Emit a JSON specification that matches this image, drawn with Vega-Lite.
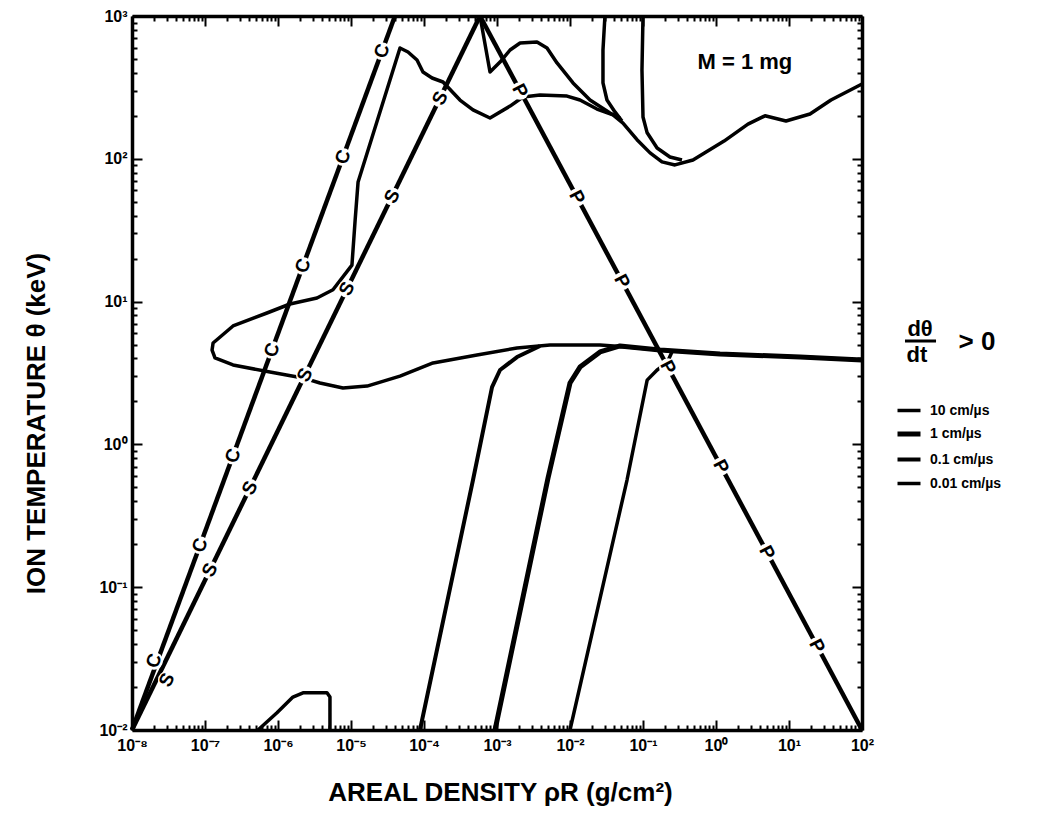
{
  "$schema": "https://vega.github.io/schema/vega-lite/v6.json",
  "width": 730,
  "height": 714,
  "autosize": {"type": "none"},
  "padding": {"left": 132, "top": 16, "right": 176, "bottom": 103},
  "background": "white",
  "config": {"view": {"stroke": null}, "font": "Liberation Sans"},
  "datasets": {
    "lines": [
      {"id": "C", "x": 1e-8, "y": 0.01, "o": 0},
      {"id": "C", "x": 4.0e-5, "y": 1000, "o": 1},
      {"id": "S", "x": 1e-8, "y": 0.01, "o": 0},
      {"id": "S", "x": 5.85e-4, "y": 1000, "o": 1},
      {"id": "P", "x": 5.85e-4, "y": 1000, "o": 0},
      {"id": "P", "x": 100, "y": 0.01, "o": 1}
    ],
    "contours": [
      {"id": "loop", "v": "10 cm/µs", "x": 100, "y": 3.90, "o": 0},
      {"id": "loop", "v": "10 cm/µs", "x": 14.2, "y": 4.09, "o": 1},
      {"id": "loop", "v": "10 cm/µs", "x": 1.135, "y": 4.30, "o": 2},
      {"id": "loop", "v": "10 cm/µs", "x": 0.171, "y": 4.58, "o": 3},
      {"id": "loop", "v": "10 cm/µs", "x": 0.0604, "y": 4.81, "o": 4},
      {"id": "loop", "v": "10 cm/µs", "x": 0.0258, "y": 4.97, "o": 5},
      {"id": "loop", "v": "10 cm/µs", "x": 0.00532, "y": 4.97, "o": 6},
      {"id": "loop", "v": "10 cm/µs", "x": 0.00188, "y": 4.73, "o": 7},
      {"id": "loop", "v": "10 cm/µs", "x": 5.32e-4, "y": 4.23, "o": 8},
      {"id": "loop", "v": "10 cm/µs", "x": 1.33e-4, "y": 3.72, "o": 9},
      {"id": "loop", "v": "10 cm/µs", "x": 4.69e-5, "y": 3.01, "o": 10},
      {"id": "loop", "v": "10 cm/µs", "x": 1.66e-5, "y": 2.56, "o": 11},
      {"id": "loop", "v": "10 cm/µs", "x": 7.76e-6, "y": 2.48, "o": 12},
      {"id": "loop", "v": "10 cm/µs", "x": 3.76e-6, "y": 2.69, "o": 13},
      {"id": "loop", "v": "10 cm/µs", "x": 2.20e-6, "y": 2.92, "o": 14},
      {"id": "loop", "v": "10 cm/µs", "x": 7.76e-7, "y": 3.21, "o": 15},
      {"id": "loop", "v": "10 cm/µs", "x": 2.42e-7, "y": 3.60, "o": 16},
      {"id": "loop", "v": "10 cm/µs", "x": 1.37e-7, "y": 4.03, "o": 17},
      {"id": "loop", "v": "10 cm/µs", "x": 1.25e-7, "y": 4.58, "o": 18},
      {"id": "loop", "v": "10 cm/µs", "x": 1.29e-7, "y": 5.13, "o": 19},
      {"id": "loop", "v": "10 cm/µs", "x": 2.42e-7, "y": 6.75, "o": 20},
      {"id": "loop", "v": "10 cm/µs", "x": 7.06e-7, "y": 8.32, "o": 21},
      {"id": "loop", "v": "10 cm/µs", "x": 1.46e-6, "y": 9.62, "o": 22},
      {"id": "loop", "v": "10 cm/µs", "x": 3.42e-6, "y": 10.6, "o": 23},
      {"id": "loop", "v": "10 cm/µs", "x": 5.66e-6, "y": 12.1, "o": 24},
      {"id": "loop", "v": "10 cm/µs", "x": 1.03e-5, "y": 18.0, "o": 25},
      {"id": "loop", "v": "10 cm/µs", "x": 1.14e-5, "y": 37.3, "o": 26},
      {"id": "loop", "v": "10 cm/µs", "x": 1.25e-5, "y": 68.8, "o": 27},
      {"id": "loop", "v": "10 cm/µs", "x": 4.69e-5, "y": 597, "o": 28},
      {"id": "loop", "v": "10 cm/µs", "x": 6.04e-5, "y": 560, "o": 29},
      {"id": "loop", "v": "10 cm/µs", "x": 8.02e-5, "y": 492, "o": 30},
      {"id": "loop", "v": "10 cm/µs", "x": 9.68e-5, "y": 405, "o": 31},
      {"id": "loop", "v": "10 cm/µs", "x": 1.29e-4, "y": 368, "o": 32},
      {"id": "loop", "v": "10 cm/µs", "x": 1.82e-4, "y": 345, "o": 33},
      {"id": "loop", "v": "10 cm/µs", "x": 3.11e-4, "y": 258, "o": 34},
      {"id": "loop", "v": "10 cm/µs", "x": 4.69e-4, "y": 220, "o": 35},
      {"id": "loop", "v": "10 cm/µs", "x": 8.02e-4, "y": 193, "o": 36},
      {"id": "loop", "v": "10 cm/µs", "x": 1.51e-3, "y": 234, "o": 37},
      {"id": "loop", "v": "10 cm/µs", "x": 2.27e-3, "y": 271, "o": 38},
      {"id": "loop", "v": "10 cm/µs", "x": 3.88e-3, "y": 280, "o": 39},
      {"id": "loop", "v": "10 cm/µs", "x": 9.10e-3, "y": 275, "o": 40},
      {"id": "loop", "v": "10 cm/µs", "x": 0.0137, "y": 258, "o": 41},
      {"id": "loop", "v": "10 cm/µs", "x": 0.0234, "y": 223, "o": 42},
      {"id": "loop", "v": "10 cm/µs", "x": 0.0388, "y": 203, "o": 43},
      {"id": "loop", "v": "10 cm/µs", "x": 0.0532, "y": 178, "o": 44},
      {"id": "loop", "v": "10 cm/µs", "x": 0.0828, "y": 136, "o": 45},
      {"id": "loop", "v": "10 cm/µs", "x": 0.125, "y": 110, "o": 46},
      {"id": "loop", "v": "10 cm/µs", "x": 0.182, "y": 95.1, "o": 47},
      {"id": "loop", "v": "10 cm/µs", "x": 0.274, "y": 90.6, "o": 48},
      {"id": "loop", "v": "10 cm/µs", "x": 0.484, "y": 98.1, "o": 49},
      {"id": "loop", "v": "10 cm/µs", "x": 1.29, "y": 133, "o": 50},
      {"id": "loop", "v": "10 cm/µs", "x": 2.74, "y": 175, "o": 51},
      {"id": "loop", "v": "10 cm/µs", "x": 4.69, "y": 200, "o": 52},
      {"id": "loop", "v": "10 cm/µs", "x": 9.10, "y": 184, "o": 53},
      {"id": "loop", "v": "10 cm/µs", "x": 19.4, "y": 206, "o": 54},
      {"id": "loop", "v": "10 cm/µs", "x": 37.6, "y": 258, "o": 55},
      {"id": "loop", "v": "10 cm/µs", "x": 100, "y": 334, "o": 56},
      {"id": "T", "v": "10 cm/µs", "x": 5.85e-4, "y": 1000, "o": 0},
      {"id": "T", "v": "10 cm/µs", "x": 8.02e-4, "y": 405, "o": 1},
      {"id": "T", "v": "10 cm/µs", "x": 1.10e-3, "y": 476, "o": 2},
      {"id": "T", "v": "10 cm/µs", "x": 1.51e-3, "y": 578, "o": 3},
      {"id": "T", "v": "10 cm/µs", "x": 2.07e-3, "y": 647, "o": 4},
      {"id": "T", "v": "10 cm/µs", "x": 3.53e-3, "y": 658, "o": 5},
      {"id": "T", "v": "10 cm/µs", "x": 4.84e-3, "y": 597, "o": 6},
      {"id": "T", "v": "10 cm/µs", "x": 6.64e-3, "y": 469, "o": 7},
      {"id": "T", "v": "10 cm/µs", "x": 0.0110, "y": 340, "o": 8},
      {"id": "T", "v": "10 cm/µs", "x": 0.0188, "y": 258, "o": 9},
      {"id": "T", "v": "10 cm/µs", "x": 0.0353, "y": 209, "o": 10},
      {"id": "T", "v": "10 cm/µs", "x": 0.0484, "y": 193, "o": 11},
      {"id": "U1", "v": "10 cm/µs", "x": 0.0301, "y": 1000, "o": 0},
      {"id": "U1", "v": "10 cm/µs", "x": 0.0283, "y": 578, "o": 1},
      {"id": "U1", "v": "10 cm/µs", "x": 0.0283, "y": 340, "o": 2},
      {"id": "U1", "v": "10 cm/µs", "x": 0.0321, "y": 258, "o": 3},
      {"id": "U1", "v": "10 cm/µs", "x": 0.0413, "y": 213, "o": 4},
      {"id": "U1", "v": "10 cm/µs", "x": 0.0515, "y": 184, "o": 5},
      {"id": "U2", "v": "10 cm/µs", "x": 0.1, "y": 1000, "o": 0},
      {"id": "U2", "v": "10 cm/µs", "x": 0.0968, "y": 419, "o": 1},
      {"id": "U2", "v": "10 cm/µs", "x": 0.1, "y": 196, "o": 2},
      {"id": "U2", "v": "10 cm/µs", "x": 0.114, "y": 152, "o": 3},
      {"id": "U2", "v": "10 cm/µs", "x": 0.156, "y": 119, "o": 4},
      {"id": "U2", "v": "10 cm/µs", "x": 0.234, "y": 103, "o": 5},
      {"id": "U2", "v": "10 cm/µs", "x": 0.342, "y": 98.1, "o": 6},
      {"id": "bump", "v": "10 cm/µs", "x": 5.32e-7, "y": 0.01, "o": 0},
      {"id": "bump", "v": "10 cm/µs", "x": 9.68e-7, "y": 0.0132, "o": 1},
      {"id": "bump", "v": "10 cm/µs", "x": 1.60e-6, "y": 0.0170, "o": 2},
      {"id": "bump", "v": "10 cm/µs", "x": 2.20e-6, "y": 0.0182, "o": 3},
      {"id": "bump", "v": "10 cm/µs", "x": 4.69e-6, "y": 0.0182, "o": 4},
      {"id": "bump", "v": "10 cm/µs", "x": 5.15e-6, "y": 0.0170, "o": 5},
      {"id": "bump", "v": "10 cm/µs", "x": 5.15e-6, "y": 0.01, "o": 6},
      {"id": "V1", "v": "0.1 cm/µs", "x": 8.81e-5, "y": 0.01, "o": 0},
      {"id": "V1", "v": "0.1 cm/µs", "x": 4.69e-4, "y": 0.563, "o": 1},
      {"id": "V1", "v": "0.1 cm/µs", "x": 8.55e-4, "y": 2.52, "o": 2},
      {"id": "V1", "v": "0.1 cm/µs", "x": 1.10e-3, "y": 3.32, "o": 3},
      {"id": "V1", "v": "0.1 cm/µs", "x": 1.88e-3, "y": 4.09, "o": 4},
      {"id": "V1", "v": "0.1 cm/µs", "x": 3.88e-3, "y": 4.89, "o": 5},
      {"id": "V2", "v": "1 cm/µs", "x": 9.40e-4, "y": 0.01, "o": 0},
      {"id": "V2", "v": "1 cm/µs", "x": 5.00e-3, "y": 0.582, "o": 1},
      {"id": "V2", "v": "1 cm/µs", "x": 0.01, "y": 2.69, "o": 2},
      {"id": "V2", "v": "1 cm/µs", "x": 0.0137, "y": 3.48, "o": 3},
      {"id": "V2", "v": "1 cm/µs", "x": 0.0258, "y": 4.44, "o": 4},
      {"id": "V2", "v": "1 cm/µs", "x": 0.0484, "y": 4.89, "o": 5},
      {"id": "V2", "v": "1 cm/µs", "x": 0.171, "y": 4.58, "o": 6},
      {"id": "V2", "v": "1 cm/µs", "x": 1.135, "y": 4.30, "o": 7},
      {"id": "V2", "v": "1 cm/µs", "x": 14.2, "y": 4.09, "o": 8},
      {"id": "V2", "v": "1 cm/µs", "x": 100, "y": 3.90, "o": 9},
      {"id": "V3", "v": "0.01 cm/µs", "x": 0.01, "y": 0.01, "o": 0},
      {"id": "V3", "v": "0.01 cm/µs", "x": 0.0604, "y": 0.563, "o": 1},
      {"id": "V3", "v": "0.01 cm/µs", "x": 0.114, "y": 2.82, "o": 2},
      {"id": "V3", "v": "0.01 cm/µs", "x": 0.156, "y": 3.32, "o": 3},
      {"id": "V3", "v": "0.01 cm/µs", "x": 0.213, "y": 3.72, "o": 4},
      {"id": "V3", "v": "0.01 cm/µs", "x": 0.249, "y": 4.44, "o": 5}
    ],
    "letters": [
      {"t": "C", "x": 2.00e-8, "y": 0.0305},
      {"t": "C", "x": 8.55e-8, "y": 0.197},
      {"t": "C", "x": 2.42e-7, "y": 0.834},
      {"t": "C", "x": 8.28e-7, "y": 4.59},
      {"t": "C", "x": 2.20e-6, "y": 17.8},
      {"t": "C", "x": 7.76e-6, "y": 103},
      {"t": "C", "x": 2.66e-5, "y": 568},
      {"t": "S", "x": 3.01e-8, "y": 0.0224},
      {"t": "S", "x": 1.17e-7, "y": 0.132},
      {"t": "S", "x": 4.13e-7, "y": 0.495},
      {"t": "S", "x": 2.34e-6, "y": 3.06},
      {"t": "S", "x": 8.81e-6, "y": 12.3},
      {"t": "S", "x": 3.65e-5, "y": 54.5},
      {"t": "S", "x": 1.66e-4, "y": 266},
      {"t": "P", "x": 2.07e-3, "y": 299},
      {"t": "P", "x": 0.01247, "y": 53.7},
      {"t": "P", "x": 0.0515, "y": 13.9},
      {"t": "P", "x": 0.220, "y": 3.47},
      {"t": "P", "x": 1.17, "y": 0.701},
      {"t": "P", "x": 5.0, "y": 0.175},
      {"t": "P", "x": 24.2, "y": 0.0387}
    ],
    "notes": [
      {"t": "M = 1 mg", "x": 2.49, "y": 476},
      {"t": "dθ", "x": 624, "y": 6.43},
      {"t": "dt", "x": 566, "y": 4.23},
      {"t": "> 0", "x": 3758, "y": 5.21}
    ],
    "bar": [
      {"x": 388, "x2": 1033, "y": 5.30}
    ]
  },
  "resolve": {"axis": {"x": "independent", "y": "independent"}},
  "layer": [
    {
      "data": {"name": "contours"},
      "mark": {"type": "line", "color": "black", "strokeJoin": "round", "strokeCap": "butt"},
      "encoding": {
        "x": {"field": "x", "type": "quantitative", "scale": {"type": "log", "domain": [1e-8, 100], "nice": false},
          "axis": {
            "orient": "bottom",
            "values": [1e-8,2e-8,3e-8,4e-8,5e-8,6e-8,7e-8,8e-8,9e-8,1e-7,2e-7,3e-7,4e-7,5e-7,6e-7,7e-7,8e-7,9e-7,1e-6,2e-6,3e-6,4e-6,5e-6,6e-6,7e-6,8e-6,9e-6,1e-5,2e-5,3e-5,4e-5,5e-5,6e-5,7e-5,8e-5,9e-5,1e-4,2e-4,3e-4,4e-4,5e-4,6e-4,7e-4,8e-4,9e-4,1e-3,2e-3,3e-3,4e-3,5e-3,6e-3,7e-3,8e-3,9e-3,0.01,0.02,0.03,0.04,0.05,0.06,0.07,0.08,0.09,0.1,0.2,0.3,0.4,0.5,0.6,0.7,0.8,0.9,1,2,3,4,5,6,7,8,9,10,20,30,40,50,60,70,80,90,100],
            "labelExpr": "abs(log(datum.value)/LN10 - round(log(datum.value)/LN10)) < 0.01 ? ['10⁻⁸','10⁻⁷','10⁻⁶','10⁻⁵','10⁻⁴','10⁻³','10⁻²','10⁻¹','10⁰','10¹','10²','10³'][round(log(datum.value)/LN10)+8] : ''",
            "labelFont": "Liberation Sans", "labelFontWeight": "bold", "labelFontSize": 16, "labelColor": "black",
            "labelOverlap": false, "labelFlush": false, "labelBound": false, "labelPadding": 17,
            "tickColor": "black", "tickWidth": 2,
            "tickSize": {"condition": {"test": "abs(log(datum.value)/LN10 - round(log(datum.value)/LN10)) < 0.01", "value": -10}, "value": -5},
            "domainColor": "black", "domainWidth": 3.5, "grid": false,
            "title": "AREAL DENSITY ρR (g/cm²)",
            "titleFont": "Liberation Sans", "titleFontWeight": "bold", "titleFontSize": 26, "titleColor": "black",
            "titleX": 368, "titleY": 62, "titleBaseline": "middle", "titleAlign": "center"
          }},
        "y": {"field": "y", "type": "quantitative", "scale": {"type": "log", "domain": [0.01, 1000], "nice": false},
          "axis": {
            "orient": "left",
            "values": [0.01,0.02,0.03,0.04,0.05,0.06,0.07,0.08,0.09,0.1,0.2,0.3,0.4,0.5,0.6,0.7,0.8,0.9,1,2,3,4,5,6,7,8,9,10,20,30,40,50,60,70,80,90,100,200,300,400,500,600,700,800,900,1000],
            "labelExpr": "abs(log(datum.value)/LN10 - round(log(datum.value)/LN10)) < 0.01 ? ['10⁻⁸','10⁻⁷','10⁻⁶','10⁻⁵','10⁻⁴','10⁻³','10⁻²','10⁻¹','10⁰','10¹','10²','10³'][round(log(datum.value)/LN10)+8] : ''",
            "labelFont": "Liberation Sans", "labelFontWeight": "bold", "labelFontSize": 16, "labelColor": "black",
            "labelOverlap": false, "labelFlush": false, "labelBound": false, "labelPadding": 15,
            "tickColor": "black", "tickWidth": 2,
            "tickSize": {"condition": {"test": "abs(log(datum.value)/LN10 - round(log(datum.value)/LN10)) < 0.01", "value": -10}, "value": -5},
            "domainColor": "black", "domainWidth": 3.5, "grid": false,
            "title": "ION TEMPERATURE θ (keV)",
            "titleFont": "Liberation Sans", "titleFontWeight": "bold", "titleFontSize": 26, "titleColor": "black",
            "titleX": -96, "titleY": 407, "titleAngle": -90, "titleBaseline": "middle", "titleAlign": "center"
          }},
        "detail": {"field": "id"},
        "order": {"field": "o"},
        "strokeWidth": {"field": "v", "type": "ordinal",
          "scale": {"type": "ordinal", "domain": ["10 cm/µs", "1 cm/µs", "0.1 cm/µs", "0.01 cm/µs"], "range": [3.5, 5, 4, 3.5]},
          "legend": {"title": null, "orient": "none", "legendX": 763, "legendY": 381,
            "symbolType": "stroke", "symbolSize": 529, "symbolStrokeColor": "black",
            "labelFont": "Liberation Sans", "labelFontWeight": "bold", "labelFontSize": 14, "labelColor": "black",
            "labelOffset": 7, "rowPadding": 2}}
      }
    },
    {
      "data": {"name": "lines"},
      "mark": {"type": "line", "color": "black", "strokeWidth": 4.5, "strokeCap": "butt"},
      "encoding": {
        "x": {"field": "x", "type": "quantitative", "scale": {"type": "log", "domain": [1e-8, 100], "nice": false}, "axis": null},
        "y": {"field": "y", "type": "quantitative", "scale": {"type": "log", "domain": [0.01, 1000], "nice": false}, "axis": null},
        "detail": {"field": "id"},
        "order": {"field": "o"}
      }
    },
    {
      "data": {"name": "letters"},
      "mark": {"type": "point", "shape": "circle", "filled": true, "color": "white", "opacity": 1, "size": 320},
      "encoding": {
        "x": {"field": "x", "type": "quantitative", "scale": {"type": "log", "domain": [1e-8, 100], "nice": false},
          "axis": {
            "orient": "top", "labels": false, "title": null, "grid": false,
            "values": [1e-8,2e-8,3e-8,4e-8,5e-8,6e-8,7e-8,8e-8,9e-8,1e-7,2e-7,3e-7,4e-7,5e-7,6e-7,7e-7,8e-7,9e-7,1e-6,2e-6,3e-6,4e-6,5e-6,6e-6,7e-6,8e-6,9e-6,1e-5,2e-5,3e-5,4e-5,5e-5,6e-5,7e-5,8e-5,9e-5,1e-4,2e-4,3e-4,4e-4,5e-4,6e-4,7e-4,8e-4,9e-4,1e-3,2e-3,3e-3,4e-3,5e-3,6e-3,7e-3,8e-3,9e-3,0.01,0.02,0.03,0.04,0.05,0.06,0.07,0.08,0.09,0.1,0.2,0.3,0.4,0.5,0.6,0.7,0.8,0.9,1,2,3,4,5,6,7,8,9,10,20,30,40,50,60,70,80,90,100],
            "tickColor": "black", "tickWidth": 2,
            "tickSize": {"condition": {"test": "abs(log(datum.value)/LN10 - round(log(datum.value)/LN10)) < 0.01", "value": -10}, "value": -5},
            "domainColor": "black", "domainWidth": 3.5
          }},
        "y": {"field": "y", "type": "quantitative", "scale": {"type": "log", "domain": [0.01, 1000], "nice": false},
          "axis": {
            "orient": "right", "labels": false, "title": null, "grid": false,
            "values": [0.01,0.02,0.03,0.04,0.05,0.06,0.07,0.08,0.09,0.1,0.2,0.3,0.4,0.5,0.6,0.7,0.8,0.9,1,2,3,4,5,6,7,8,9,10,20,30,40,50,60,70,80,90,100,200,300,400,500,600,700,800,900,1000],
            "tickColor": "black", "tickWidth": 2,
            "tickSize": {"condition": {"test": "abs(log(datum.value)/LN10 - round(log(datum.value)/LN10)) < 0.01", "value": -10}, "value": -5},
            "domainColor": "black", "domainWidth": 3.5
          }}
      }
    },
    {
      "data": {"name": "letters"},
      "transform": [{"filter": "datum.t == 'C'"}],
      "mark": {"type": "text", "font": "Liberation Sans", "fontWeight": "bold", "fontSize": 19, "color": "black", "align": "center", "baseline": "middle", "angle": -70},
      "encoding": {
        "x": {"field": "x", "type": "quantitative", "scale": {"type": "log", "domain": [1e-8, 100], "nice": false}, "axis": null},
        "y": {"field": "y", "type": "quantitative", "scale": {"type": "log", "domain": [0.01, 1000], "nice": false}, "axis": null},
        "text": {"field": "t"}
      }
    },
    {
      "data": {"name": "letters"},
      "transform": [{"filter": "datum.t == 'S'"}],
      "mark": {"type": "text", "font": "Liberation Sans", "fontWeight": "bold", "fontSize": 19, "color": "black", "align": "center", "baseline": "middle", "angle": -64},
      "encoding": {
        "x": {"field": "x", "type": "quantitative", "scale": {"type": "log", "domain": [1e-8, 100], "nice": false}, "axis": null},
        "y": {"field": "y", "type": "quantitative", "scale": {"type": "log", "domain": [0.01, 1000], "nice": false}, "axis": null},
        "text": {"field": "t"}
      }
    },
    {
      "data": {"name": "letters"},
      "transform": [{"filter": "datum.t == 'P'"}],
      "mark": {"type": "text", "font": "Liberation Sans", "fontWeight": "bold", "fontSize": 19, "color": "black", "align": "center", "baseline": "middle", "angle": 62},
      "encoding": {
        "x": {"field": "x", "type": "quantitative", "scale": {"type": "log", "domain": [1e-8, 100], "nice": false}, "axis": null},
        "y": {"field": "y", "type": "quantitative", "scale": {"type": "log", "domain": [0.01, 1000], "nice": false}, "axis": null},
        "text": {"field": "t"}
      }
    },
    {
      "data": {"name": "notes"},
      "transform": [{"filter": "datum.t != '> 0'"}],
      "mark": {"type": "text", "font": "Liberation Sans", "fontWeight": "bold", "fontSize": 22, "color": "black", "align": "center", "baseline": "middle"},
      "encoding": {
        "x": {"field": "x", "type": "quantitative", "scale": {"type": "log", "domain": [1e-8, 100], "nice": false}, "axis": null},
        "y": {"field": "y", "type": "quantitative", "scale": {"type": "log", "domain": [0.01, 1000], "nice": false}, "axis": null},
        "text": {"field": "t"}
      }
    },
    {
      "data": {"name": "notes"},
      "transform": [{"filter": "datum.t == '> 0'"}],
      "mark": {"type": "text", "font": "Liberation Sans", "fontWeight": "bold", "fontSize": 26, "color": "black", "align": "center", "baseline": "middle"},
      "encoding": {
        "x": {"field": "x", "type": "quantitative", "scale": {"type": "log", "domain": [1e-8, 100], "nice": false}, "axis": null},
        "y": {"field": "y", "type": "quantitative", "scale": {"type": "log", "domain": [0.01, 1000], "nice": false}, "axis": null},
        "text": {"field": "t"}
      }
    },
    {
      "data": {"name": "bar"},
      "mark": {"type": "rule", "color": "black", "strokeWidth": 3},
      "encoding": {
        "x": {"field": "x", "type": "quantitative", "scale": {"type": "log", "domain": [1e-8, 100], "nice": false}, "axis": null},
        "x2": {"field": "x2"},
        "y": {"field": "y", "type": "quantitative", "scale": {"type": "log", "domain": [0.01, 1000], "nice": false}, "axis": null}
      }
    }
  ]
}
